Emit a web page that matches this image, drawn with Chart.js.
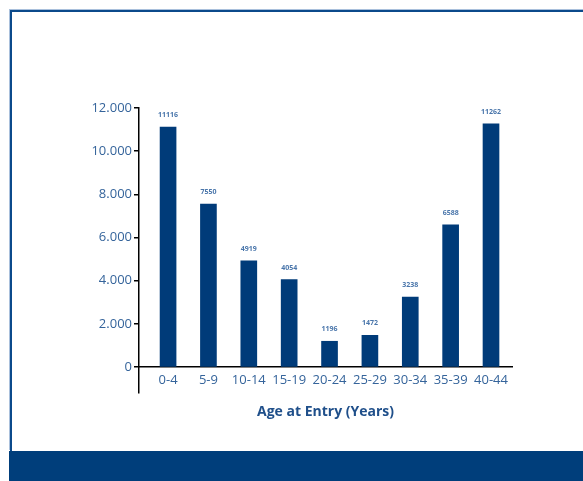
<!DOCTYPE html>
<html>
<head>
<meta charset="utf-8">
<script src="https://cdn.jsdelivr.net/npm/chart.js@4.4.1/dist/chart.umd.min.js"></script>
<style>
  html, body { margin: 0; padding: 0; background: #ffffff; }
  #wrap { position: relative; width: 583px; height: 481px; overflow: hidden; background: #fff; }
  #frame { position: absolute; left: 10px; top: 10px; width: 580px; height: 441px;
           border-left: 2px solid #0b4a8b; border-top: 2px solid #0b4a8b;
           box-shadow: -1px -1px 0 #a9c0dc; box-sizing: border-box; }
  #band { position: absolute; left: 9px; top: 451px; width: 574px; height: 30px; background: #003e7b; }
  canvas { position: absolute; left: 0; top: 0; }
</style>
</head>
<body>
<div id="wrap">
  <div id="frame"></div>
  <div id="band"></div>
  <canvas id="c" width="583" height="481"></canvas>
</div>
<script>
const categories = ['0-4', '5-9', '10-14', '15-19', '20-24', '25-29', '30-34', '35-39', '40-44'];
const values = [11116, 7550, 4919, 4054, 1196, 1472, 3238, 6588, 11262];
const yTickValues = [0, 2000, 4000, 6000, 8000, 10000, 12000];
const yTickLabels = ['0', '2.000', '4.000', '6.000', '8.000', '10.000', '12.000'];
const xTitle = 'Age at Entry (Years)';

const labelBlue = '#35649b';
const barBlue = '#003b79';
const fontFamily = "'Open Sans', 'Noto Sans', sans-serif";

const valueLabels = {
  id: 'valueLabels',
  afterDatasetsDraw(chart) {
    const ctx = chart.ctx;
    const meta = chart.getDatasetMeta(0);
    ctx.save();
    ctx.font = "bold 7px " + fontFamily;
    ctx.fillStyle = '#4a76ab';
    ctx.textAlign = 'center';
    ctx.textBaseline = 'middle';
    meta.data.forEach((bar, i) => {
      ctx.fillText(String(values[i]), bar.x, bar.y - 12);
    });
    ctx.restore();
  }
};

new Chart(document.getElementById('c'), {
  type: 'bar',
  data: {
    datasets: [{
      data: values.map((v, i) => ({ x: i, y: v })),
      backgroundColor: barBlue,
      borderWidth: 0,
      barThickness: 16
    }]
  },
  options: {
    responsive: false,
    animation: false,
    events: [],
    layout: { padding: { left: 0, right: 71, top: 108, bottom: 88 } },
    plugins: { legend: { display: false }, tooltip: { enabled: false } },
    scales: {
      x: {
        type: 'linear',
        position: { y: 0 },
        min: -0.72,
        max: 8.52,
        offset: false,
        afterBuildTicks(scale) { scale.ticks = categories.map((c, i) => ({ value: i })); },
        ticks: {
          autoSkip: false,
          maxRotation: 0,
          minRotation: 0,
          padding: 5,
          color: labelBlue,
          font: { family: fontFamily, size: 13 },
          callback: (v) => categories[v] !== undefined ? categories[v] : ''
        },
        grid: { display: false, drawTicks: false, offset: false },
        border: { display: true, color: '#000000', width: 1.5 },
        title: {
          display: true,
          text: xTitle,
          color: '#1f4f8a',
          font: { family: fontFamily, size: 14, weight: 'bold' },
          padding: { top: 11, bottom: 0 }
        }
      },
      y: {
        min: -1200,
        max: 12000,
        afterBuildTicks(scale) { scale.ticks = yTickValues.map(v => ({ value: v })); },
        afterFit(scale) { scale.width = 139; },
        ticks: {
          padding: 2,
          color: labelBlue,
          font: { family: fontFamily, size: 13 },
          callback: (v) => { const k = yTickValues.indexOf(v); return k >= 0 ? yTickLabels[k] : ''; }
        },
        grid: { display: true, drawOnChartArea: false, drawTicks: true, tickLength: 5, color: '#000000', lineWidth: 1.5 },
        border: { display: true, color: '#000000', width: 1.5 }
      }
    }
  },
  plugins: [valueLabels]
});
</script>
</body>
</html>
